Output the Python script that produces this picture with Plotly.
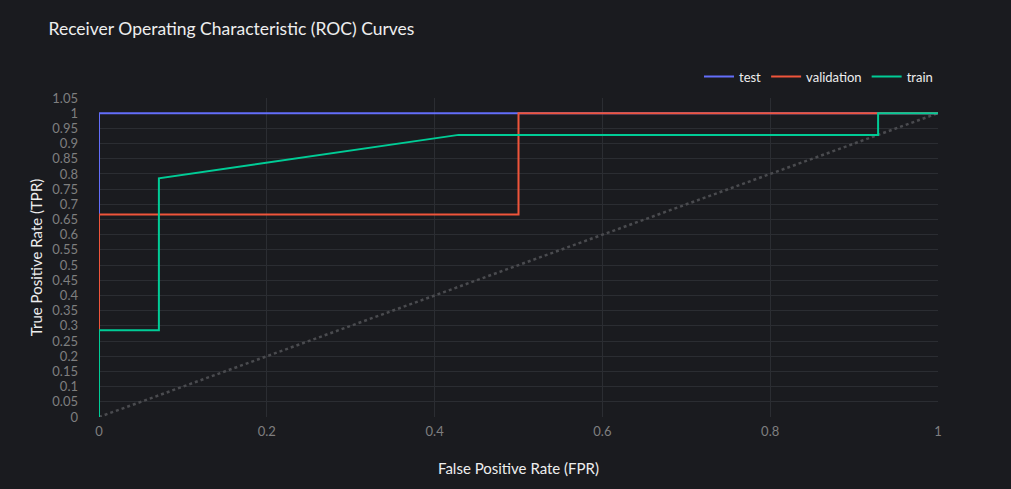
import plotly.graph_objects as go

test_fpr = [0, 0, 1]
test_tpr = [0, 1, 1]
val_fpr = [0, 0, 0.5, 0.5, 1]
val_tpr = [0, 0.6667, 0.6667, 1, 1]
train_fpr = [0, 0, 0.0714, 0.0714, 0.4286, 0.9286, 0.9286, 1]
train_tpr = [0, 0.2857, 0.2857, 0.7857, 0.9286, 0.9286, 1, 1]
diag = [0, 1]

bg = "#1a1b1f"
grid = "#2b2d32"
font = "Lato"

fig = go.Figure()
fig.add_trace(go.Scatter(x=diag, y=diag, mode="lines", showlegend=False,
                         line=dict(color="#4a4b4f", dash="3px,3px", width=2.5)))
fig.add_trace(go.Scatter(x=test_fpr, y=test_tpr, mode="lines", name="test",
                         line=dict(color="#636efa", width=2)))
fig.add_trace(go.Scatter(x=val_fpr, y=val_tpr, mode="lines", name="validation",
                         line=dict(color="#EF553B", width=2)))
fig.add_trace(go.Scatter(x=train_fpr, y=train_tpr, mode="lines", name="train",
                         line=dict(color="#00cc96", width=2)))

fig.update_layout(
    width=1011, height=489,
    paper_bgcolor=bg, plot_bgcolor=bg,
    margin=dict(l=99, r=73, t=98, b=72),
    font=dict(family=font, color="#e8e8e8"),
    title=dict(text="Receiver Operating Characteristic (ROC) Curves", x=0.048, xanchor="left",
               y=0.94, yanchor="middle", font=dict(size=17.5, color="#eeeeee")),
    legend=dict(orientation="h", x=1, xanchor="right", y=1.02, yanchor="bottom",
                font=dict(size=13, color="#eeeeee"), bgcolor="rgba(0,0,0,0)"),
    xaxis=dict(title=dict(text="False Positive Rate (FPR)", font=dict(size=15, color="#eeeeee"), standoff=25),
               range=[0, 1], dtick=0.2, gridcolor=grid, zeroline=False, showline=False,
               tickfont=dict(size=13, color="#7f7f7f"), ticklabelstandoff=5),
    yaxis=dict(title=dict(text="True Positive Rate (TPR)", font=dict(size=15, color="#eeeeee"), standoff=6),
               range=[0, 1.05], dtick=0.05, gridcolor=grid, zeroline=False, showline=False,
               tickfont=dict(size=13, color="#7f7f7f"), ticklabelstandoff=20),
)

fig.write_html("out.html")
